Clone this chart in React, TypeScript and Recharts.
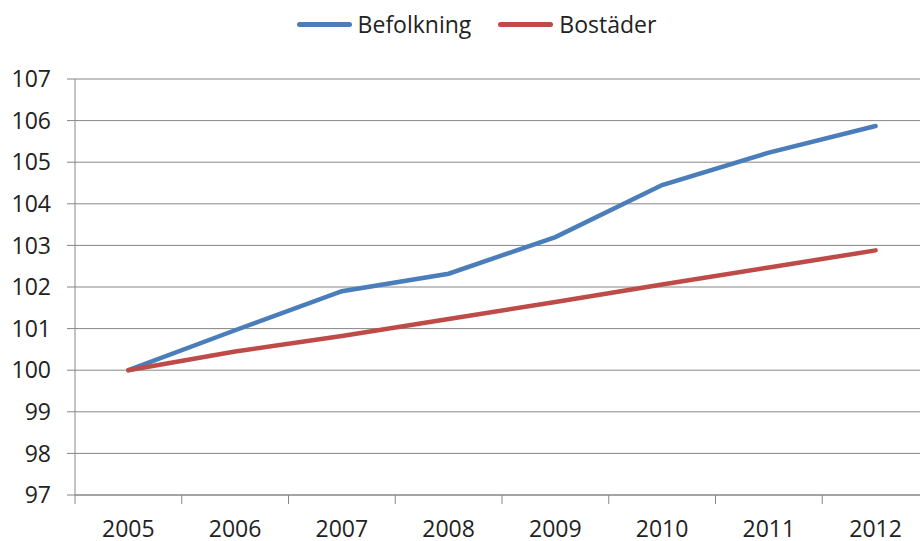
import { LineChart, Line, XAxis, YAxis, CartesianGrid, Legend } from 'recharts';

const years = ['2005', '2006', '2007', '2008', '2009', '2010', '2011', '2012'];
const befolkning = [100, 100.96, 101.9, 102.32, 103.2, 104.45, 105.23, 105.87];
const bostader = [100, 100.45, 100.82, 101.23, 101.64, 102.06, 102.47, 102.88];
const yTicks = [97, 98, 99, 100, 101, 102, 103, 104, 105, 106, 107];

const data = years.map((year, i) => ({
  year,
  Befolkning: befolkning[i],
  Bostäder: bostader[i],
}));

const FONT = '"Open Sans", sans-serif';
const AXIS = '#868686';
const BLUE = '#4a7ebb';
const RED = '#be4b48';

interface TickProps {
  x?: number;
  y?: number;
  index?: number;
  payload?: { value: string; offset?: number };
}

// ticks sit between the categories, labels in the middle
function YearTick({ x = 0, y = 0, index = 0, payload }: TickProps) {
  const half = payload?.offset || 53.3;
  return (
    <g>
      <line x1={x - half} x2={x - half} y1={y} y2={y + 9} stroke={AXIS} />
      {index === years.length - 1 && (
        <line x1={x + half} x2={x + half} y1={y} y2={y + 9} stroke={AXIS} />
      )}
      <text x={x} y={y + 33} textAnchor="middle" dominantBaseline="central" fontSize={23} fill="#222" fontFamily={FONT}>
        {payload?.value}
      </text>
    </g>
  );
}

function LegendRow() {
  const items = [
    { name: 'Befolkning', color: BLUE },
    { name: 'Bostäder', color: RED },
  ];
  return (
    <div style={{ display: 'flex', justifyContent: 'center', gap: 27, paddingLeft: 24, paddingTop: 2, fontFamily: FONT, fontSize: 23, color: '#222' }}>
      {items.map((it) => (
        <div key={it.name} style={{ display: 'flex', alignItems: 'center', gap: 6 }}>
          <span style={{ display: 'inline-block', width: 55, height: 5, borderRadius: 3, background: it.color }} />
          <span>{it.name}</span>
        </div>
      ))}
    </div>
  );
}

export default function App() {
  // the original plot runs past the right edge of the picture, so clip it
  return (
    <div style={{ position: 'absolute', left: 0, top: 0, width: 920, height: 541, overflow: 'hidden', background: '#fff' }}>
      <LineChart width={934} height={541} data={data} margin={{ top: 6, right: 5, left: 0, bottom: 0 }}>
        <Legend verticalAlign="top" height={73} content={<LegendRow />} />
        <CartesianGrid vertical={false} stroke={AXIS} strokeWidth={1} />
        <XAxis
          dataKey="year"
          scale="band"
          height={46}
          stroke={AXIS}
          tickLine={false}
          tickSize={0}
          tickMargin={0}
          interval={0}
          tick={<YearTick />}
        />
        <YAxis
          width={75}
          domain={[97, 107]}
          ticks={yTicks}
          interval={0}
          stroke={AXIS}
          tickSize={8}
          tickMargin={16}
          tick={{ fontSize: 23, fill: '#222', fontFamily: FONT }}
        />
        <Line dataKey="Befolkning" stroke={BLUE} strokeWidth={4.5} dot={false} strokeLinecap="round" isAnimationActive={false} />
        <Line dataKey="Bostäder" stroke={RED} strokeWidth={4.5} dot={false} strokeLinecap="round" isAnimationActive={false} />
      </LineChart>
    </div>
  );
}
